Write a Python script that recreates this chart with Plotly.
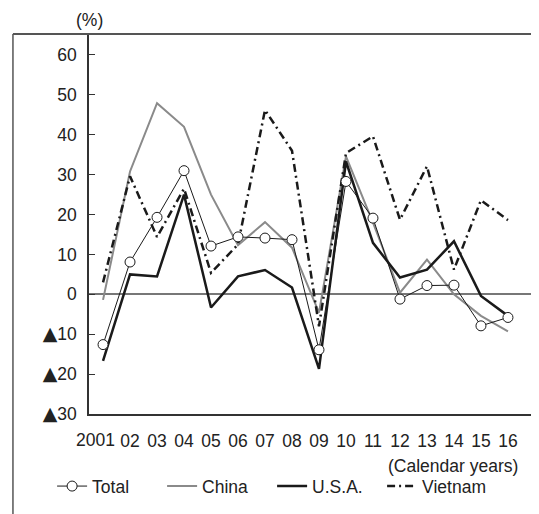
import plotly.graph_objects as go

years = list(range(2001, 2017))
tick_text = ["", "02", "03", "04", "05", "06", "07", "08", "09", "10",
             "11", "12", "13", "14", "15", "16"]
first_year_label = "2001"
total = [-12.6, 8.1, 19.3, 31.0, 12.1, 14.4, 14.1, 13.7, -13.9, 28.3, 19.1, -1.2, 2.2, 2.3, -7.9, -5.8]
china = [-1.4, 30.8, 47.9, 42.0, 25.0, 12.3, 18.1, 11.7, -4.6, 34.6, 18.0, 0.4, 8.7, 0.0, -5.4, -9.3]
usa = [-16.7, 5.0, 4.5, 25.0, -3.3, 4.5, 6.1, 1.7, -18.7, 33.3, 12.9, 4.2, 6.2, 13.3, -0.4, -5.4]
vietnam = [3.0, 29.6, 14.4, 26.5, 5.4, 12.5, 46.2, 36.0, -8.0, 35.4, 39.6, 18.7, 32.1, 6.2, 23.6, 18.6]
y_ticks = [60, 50, 40, 30, 20, 10, 0, -10, -20, -30]
TRI = "<span style='font-family:DejaVu Sans;font-size:19px'>▲</span>"
y_tick_text = ["60", "50", "40", "30", "20", "10", "0", TRI + "10", TRI + "20", TRI + "30"]

FONT = "Liberation Sans, Arial, sans-serif"
FS = 17.5

fig = go.Figure()
fig.add_trace(go.Scatter(x=years, y=china, name="China", mode="lines",
                         line=dict(color="#8a8a8a", width=2), legendrank=2))
fig.add_trace(go.Scatter(x=years, y=usa, name="U.S.A.", mode="lines",
                         line=dict(color="#1a1a1a", width=2.5), legendrank=3))
fig.add_trace(go.Scatter(x=years, y=vietnam, name="Vietnam", mode="lines",
                         line=dict(color="#1a1a1a", width=2.5, dash="8px,4px,2px,4px"), legendrank=4))
fig.add_trace(go.Scatter(x=years, y=total, name="Total", mode="lines+markers",
                         line=dict(color="#1a1a1a", width=1),
                         marker=dict(symbol="circle", size=10, color="white",
                                     line=dict(color="#1a1a1a", width=1)),
                         legendrank=1))

fig.update_layout(
    width=531, height=506,
    margin=dict(l=81, r=0, t=26, b=100, autoexpand=False),
    paper_bgcolor="white", plot_bgcolor="white",
    font=dict(family=FONT, size=FS, color="#222"),
    showlegend=True,
    legend=dict(orientation="h", x=-0.082, xanchor="left", y=-0.19, yanchor="middle",
                entrywidth=65, font=dict(size=FS), bgcolor="rgba(0,0,0,0)",
                traceorder="normal"),
    xaxis=dict(range=[2000.48, 2017.15], tickvals=years, ticktext=tick_text,
               showgrid=False, zeroline=False, showline=True, linecolor="#333",
               linewidth=1.5, ticks="", ticklabelstandoff=10, tickangle=0,
               automargin=False, tickfont=dict(size=FS)),
    yaxis=dict(range=[-30, 65.26], tickvals=y_ticks, ticktext=y_tick_text,
               showgrid=False, zeroline=True, zerolinecolor="#777", zerolinewidth=1.5,
               showline=True, linecolor="#333", linewidth=1.5,
               ticks="inside", ticklen=6, tickcolor="#333", tickwidth=1,
               ticklabelstandoff=7, automargin=False, tickfont=dict(size=FS)),
    shapes=[
        dict(type="line", xref="paper", yref="paper", x0=-0.169, x1=1.0, y0=1.0, y1=1.0,
             line=dict(color="#555", width=2)),
        dict(type="line", xref="paper", yref="paper", x0=-0.169, x1=-0.169, y0=1.0, y1=-0.27,
             line=dict(color="#555", width=1.5)),
    ],
    annotations=[
        dict(text="(%)", xref="paper", yref="paper", x=0.0, y=1.037,
             xanchor="center", yanchor="middle", showarrow=False, font=dict(size=FS)),
        dict(text="(Calendar years)", xref="paper", yref="paper", x=0.958, y=-0.137,
             xanchor="right", yanchor="middle", showarrow=False, font=dict(size=FS)),
        dict(text=first_year_label, xref="x", yref="paper", x=years[0], xshift=-8,
             y=-0.0685, xanchor="center", yanchor="middle", showarrow=False,
             font=dict(size=FS)),
    ],
)

fig.write_html("out.html")
